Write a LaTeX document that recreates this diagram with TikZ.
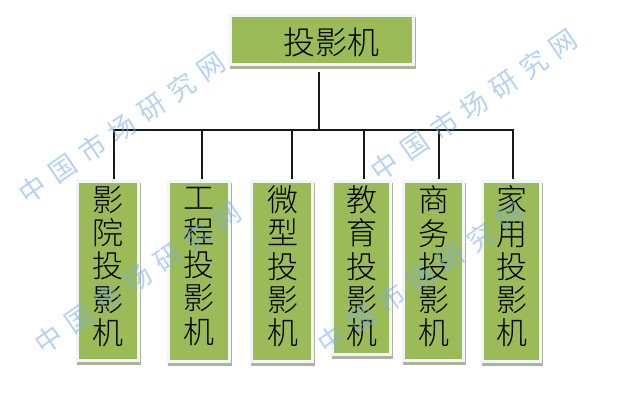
\documentclass[tikz,border=0pt]{standalone}
\usepackage{fontspec}
\setmainfont{Noto Sans CJK SC}
\newfontfamily\cjkfont{Noto Sans CJK SC}[UprightFont={* Light}]
\newfontfamily\wmfont{Noto Sans CJK SC}
\usetikzlibrary{shadows}
\definecolor{boxgreen}{RGB}{155,187,89}
\definecolor{shadowgray}{RGB}{176,178,160}
\definecolor{edgewhite}{RGB}{242,245,248}
\definecolor{wmblue}{RGB}{125,172,235}
\tikzset{
  greenbox/.style={draw=edgewhite,line width=3pt,fill=boxgreen,inner sep=0pt,outer sep=0pt,
    general shadow={fill=shadowgray,draw=shadowgray,line width=3pt,shadow xshift=1.4pt,shadow yshift=-3pt}},
  bigtext/.style={inner sep=0pt,font=\cjkfont\fontsize{31}{33.3}\selectfont,align=center,text=black},
  toptext/.style={inner sep=0pt,font=\cjkfont\fontsize{32}{33}\selectfont,text=black},
  link/.style={draw=black!90,line width=1.7pt},
  wmark/.style={inner sep=0pt,rotate=34.5,text=wmblue,text opacity=0.55,
    font=\wmfont\fontsize{27}{27}\selectfont}
}
\newcommand{\wmtext}{中\hspace{9pt}国\hspace{9pt}市\hspace{9pt}场\hspace{9pt}研\hspace{9pt}究\hspace{9pt}网}
\begin{document}
\begin{tikzpicture}[x=1pt,y=-1pt]
\useasboundingbox (0,0) rectangle (622,407);
\fill[white] (0,0) rectangle (622,407);
% boxes: centre and size including half of the border
\node[greenbox,minimum width=183pt,minimum height=49pt] (top) at (322,40) {};
\node[greenbox,minimum width=61pt,minimum height=179pt] (b1) at (108,271) {};
\node[greenbox,minimum width=61pt,minimum height=180pt] (b2) at (199,271.5) {};
\node[greenbox,minimum width=61pt,minimum height=180pt] (b3) at (282,271.5) {};
\node[greenbox,minimum width=58pt,minimum height=173pt] (b4) at (361.5,268) {};
\node[greenbox,minimum width=60pt,minimum height=179pt] (b5) at (433.5,271) {};
\node[greenbox,minimum width=58pt,minimum height=180pt] (b6) at (511.5,271.5) {};
% connectors
\coordinate (bus1) at (114,130);
\coordinate (bus2) at (202,130);
\coordinate (bus3) at (292,130);
\coordinate (bus4) at (364,130);
\coordinate (bus5) at (439,130);
\coordinate (bus6) at (513,130);
\coordinate (trunk) at (319,130);
\draw[link] ([xshift=-0.8pt]bus1) -- ([xshift=0.8pt]bus6);
\draw[link] (trunk |- top.south) ++(0,7) -- (trunk);
\foreach \i in {1,...,6}{
  \draw[link] (bus\i) -- ([yshift=2.5pt]bus\i |- b\i.north);
}
% texts
\node[toptext] (ttop) at (331,42) {投影机};
\node[bigtext] (t1) at (108,266.5) {影\\院\\投\\影\\机};
\node[bigtext] (t2) at (199,266.5) {工\\程\\投\\影\\机};
\node[bigtext] (t3) at (283,266.5) {微\\型\\投\\影\\机};
\node[bigtext] (t4) at (362,266.5) {教\\育\\投\\影\\机};
\node[bigtext] (t5) at (434,266.5) {商\\务\\投\\影\\机};
\node[bigtext] (t6) at (512,266.5) {家\\用\\投\\影\\机};
% watermarks
\node[wmark] (w1) at (122,128) {\wmtext};
\node[wmark] (w2) at (138,278) {\wmtext};
\node[wmark] (w3) at (421,278) {\wmtext};
\node[wmark] (w4) at (474,105) {\wmtext};
\end{tikzpicture}
\end{document}
